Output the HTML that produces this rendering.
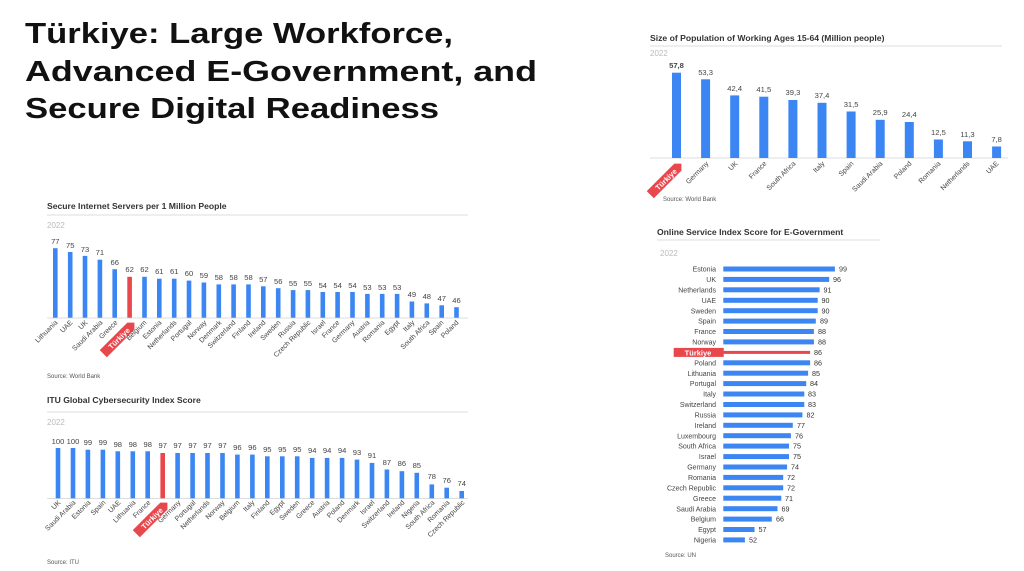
<!DOCTYPE html>
<html><head><meta charset="utf-8"><style>
html,body{margin:0;padding:0;background:#fff;}
svg{display:block;font-family:"Liberation Sans",Arial,sans-serif;}
.t{font-weight:bold;font-size:8.6px;fill:#333}
.y{font-size:8px;fill:#bbb}
.v{font-size:7.6px;fill:#444;text-anchor:middle}
.l{font-size:7px;fill:#444;text-anchor:end}
.s{font-size:6px;fill:#555}
.b{fill:#3b86f2}
.r{fill:#e8474c}
.w{font-size:7.5px;fill:#fff;font-weight:bold;text-anchor:middle}
</style></head><body>
<svg width="1024" height="571" viewBox="0 0 1024 571" xmlns="http://www.w3.org/2000/svg">
<rect width="1024" height="571" fill="#fff"/>
<g font-weight="bold" font-size="29" fill="#111">
<text x="25" y="43" textLength="428" lengthAdjust="spacingAndGlyphs">Türkiye: Large Workforce,</text>
<text x="25" y="81" textLength="512" lengthAdjust="spacingAndGlyphs">Advanced E-Government, and</text>
<text x="25" y="118" textLength="414" lengthAdjust="spacingAndGlyphs">Secure Digital Readiness</text>
</g>

<!-- Chart A -->
<text class="t" x="650" y="41">Size of Population of Working Ages 15-64 (Million people)</text>
<line x1="650" y1="46" x2="1002" y2="46" stroke="#ddd"/>
<text class="y" x="650" y="56">2022</text>
<line x1="650" y1="158" x2="1008" y2="158" stroke="#ddd"/>
<g>
<g transform="translate(676.5,0)"><rect class="b" x="-4.5" y="72.7" width="9" height="85.3"/><text class="v" y="68" font-weight="bold">57,8</text></g>
<g transform="translate(705.6,0)"><rect class="b" x="-4.5" y="79.3" width="9" height="78.7"/><text class="v" y="75">53,3</text><text class="l" transform="translate(708,164) rotate(-45)" x="0" y="0"></text></g>
<g transform="translate(734.7,0)"><rect class="b" x="-4.5" y="95.4" width="9" height="62.6"/><text class="v" y="91">42,4</text></g>
<g transform="translate(763.8,0)"><rect class="b" x="-4.5" y="96.7" width="9" height="61.3"/><text class="v" y="92">41,5</text></g>
<g transform="translate(792.9,0)"><rect class="b" x="-4.5" y="100" width="9" height="58"/><text class="v" y="95">39,3</text></g>
<g transform="translate(822,0)"><rect class="b" x="-4.5" y="102.8" width="9" height="55.2"/><text class="v" y="98">37,4</text></g>
<g transform="translate(851.1,0)"><rect class="b" x="-4.5" y="111.5" width="9" height="46.5"/><text class="v" y="107">31,5</text></g>
<g transform="translate(880.2,0)"><rect class="b" x="-4.5" y="119.8" width="9" height="38.2"/><text class="v" y="115">25,9</text></g>
<g transform="translate(909.3,0)"><rect class="b" x="-4.5" y="122" width="9" height="36"/><text class="v" y="117">24,4</text></g>
<g transform="translate(938.4,0)"><rect class="b" x="-4.5" y="139.5" width="9" height="18.5"/><text class="v" y="135">12,5</text></g>
<g transform="translate(967.5,0)"><rect class="b" x="-4.5" y="141.3" width="9" height="16.7"/><text class="v" y="137">11,3</text></g>
<g transform="translate(996.6,0)"><rect class="b" x="-4.5" y="146.5" width="9" height="11.5"/><text class="v" y="142">7,8</text></g>
</g>
<g class="l">
<g transform="translate(680,165) rotate(-45)"><path d="M-42,-5 H-3 L2,0 L-3,5 H-42 Z" class="r"/><text class="w" x="-20" y="3">Türkiye</text></g>
<text transform="translate(709,164) rotate(-45)">Germany</text>
<text transform="translate(738,164) rotate(-45)">UK</text>
<text transform="translate(767,164) rotate(-45)">France</text>
<text transform="translate(796,164) rotate(-45)">South Africa</text>
<text transform="translate(825,164) rotate(-45)">Italy</text>
<text transform="translate(854,164) rotate(-45)">Spain</text>
<text transform="translate(883,164) rotate(-45)">Saudi Arabia</text>
<text transform="translate(912,164) rotate(-45)">Poland</text>
<text transform="translate(941,164) rotate(-45)">Romania</text>
<text transform="translate(970,164) rotate(-45)">Netherlands</text>
<text transform="translate(999,164) rotate(-45)">UAE</text>
</g>
<text class="s" x="663" y="201">Source: World Bank</text>

<!-- Chart B -->
<text class="t" x="47" y="209">Secure Internet Servers per 1 Million People</text>
<line x1="47" y1="215" x2="468" y2="215" stroke="#ddd"/>
<text class="y" x="47" y="228">2022</text>
<line x1="47" y1="318" x2="468" y2="318" stroke="#ddd"/>
<g>
<g transform="translate(55.3,0)"><rect class="b" x="-2.3" y="248.2" width="4.6" height="69.5"/><text class="v" y="244">77</text></g>
<g transform="translate(70.2,0)"><rect class="b" x="-2.3" y="252" width="4.6" height="65.7"/><text class="v" y="248">75</text></g>
<g transform="translate(85,0)"><rect class="b" x="-2.3" y="255.9" width="4.6" height="61.8"/><text class="v" y="252">73</text></g>
<g transform="translate(99.9,0)"><rect class="b" x="-2.3" y="259.7" width="4.6" height="58"/><text class="v" y="255">71</text></g>
<g transform="translate(114.7,0)"><rect class="b" x="-2.3" y="269.2" width="4.6" height="48.5"/><text class="v" y="265">66</text></g>
<g transform="translate(129.6,0)"><rect class="r" x="-2.3" y="276.8" width="4.6" height="40.9"/><text class="v" y="272">62</text></g>
<g transform="translate(144.5,0)"><rect class="b" x="-2.3" y="276.8" width="4.6" height="40.9"/><text class="v" y="272">62</text></g>
<g transform="translate(159.3,0)"><rect class="b" x="-2.3" y="278.7" width="4.6" height="39"/><text class="v" y="274">61</text></g>
<g transform="translate(174.2,0)"><rect class="b" x="-2.3" y="278.7" width="4.6" height="39"/><text class="v" y="274">61</text></g>
<g transform="translate(189,0)"><rect class="b" x="-2.3" y="280.6" width="4.6" height="37.1"/><text class="v" y="276">60</text></g>
<g transform="translate(203.9,0)"><rect class="b" x="-2.3" y="282.5" width="4.6" height="35.2"/><text class="v" y="278">59</text></g>
<g transform="translate(218.8,0)"><rect class="b" x="-2.3" y="284.4" width="4.6" height="33.3"/><text class="v" y="280">58</text></g>
<g transform="translate(233.6,0)"><rect class="b" x="-2.3" y="284.4" width="4.6" height="33.3"/><text class="v" y="280">58</text></g>
<g transform="translate(248.5,0)"><rect class="b" x="-2.3" y="284.4" width="4.6" height="33.3"/><text class="v" y="280">58</text></g>
<g transform="translate(263.3,0)"><rect class="b" x="-2.3" y="286.3" width="4.6" height="31.4"/><text class="v" y="282">57</text></g>
<g transform="translate(278.2,0)"><rect class="b" x="-2.3" y="288.2" width="4.6" height="29.5"/><text class="v" y="284">56</text></g>
<g transform="translate(293.1,0)"><rect class="b" x="-2.3" y="290.1" width="4.6" height="27.6"/><text class="v" y="286">55</text></g>
<g transform="translate(307.9,0)"><rect class="b" x="-2.3" y="290.1" width="4.6" height="27.6"/><text class="v" y="286">55</text></g>
<g transform="translate(322.8,0)"><rect class="b" x="-2.3" y="292" width="4.6" height="25.7"/><text class="v" y="288">54</text></g>
<g transform="translate(337.6,0)"><rect class="b" x="-2.3" y="292" width="4.6" height="25.7"/><text class="v" y="288">54</text></g>
<g transform="translate(352.5,0)"><rect class="b" x="-2.3" y="292" width="4.6" height="25.7"/><text class="v" y="288">54</text></g>
<g transform="translate(367.4,0)"><rect class="b" x="-2.3" y="293.9" width="4.6" height="23.8"/><text class="v" y="290">53</text></g>
<g transform="translate(382.2,0)"><rect class="b" x="-2.3" y="293.9" width="4.6" height="23.8"/><text class="v" y="290">53</text></g>
<g transform="translate(397.1,0)"><rect class="b" x="-2.3" y="293.9" width="4.6" height="23.8"/><text class="v" y="290">53</text></g>
<g transform="translate(411.9,0)"><rect class="b" x="-2.3" y="301.5" width="4.6" height="16.2"/><text class="v" y="297">49</text></g>
<g transform="translate(426.8,0)"><rect class="b" x="-2.3" y="303.4" width="4.6" height="14.3"/><text class="v" y="299">48</text></g>
<g transform="translate(441.7,0)"><rect class="b" x="-2.3" y="305.3" width="4.6" height="12.4"/><text class="v" y="301">47</text></g>
<g transform="translate(456.5,0)"><rect class="b" x="-2.3" y="307.2" width="4.6" height="10.5"/><text class="v" y="303">46</text></g>
</g>
<g class="l">
<text transform="translate(58,323) rotate(-45)">Lithuania</text>
<text transform="translate(73,323) rotate(-45)">UAE</text>
<text transform="translate(88,323) rotate(-45)">UK</text>
<text transform="translate(103,323) rotate(-45)">Saudi Arabia</text>
<text transform="translate(118,323) rotate(-45)">Greece</text>
<g transform="translate(133,324) rotate(-45)"><path d="M-42,-5 H-3 L2,0 L-3,5 H-42 Z" class="r"/><text class="w" x="-20" y="3">Türkiye</text></g>
<text transform="translate(147,323) rotate(-45)">Belgium</text>
<text transform="translate(162,323) rotate(-45)">Estonia</text>
<text transform="translate(177,323) rotate(-45)">Netherlands</text>
<text transform="translate(192,323) rotate(-45)">Portugal</text>
<text transform="translate(207,323) rotate(-45)">Norway</text>
<text transform="translate(222,323) rotate(-45)">Denmark</text>
<text transform="translate(236,323) rotate(-45)">Switzerland</text>
<text transform="translate(251,323) rotate(-45)">Finland</text>
<text transform="translate(266,323) rotate(-45)">Ireland</text>
<text transform="translate(281,323) rotate(-45)">Sweden</text>
<text transform="translate(296,323) rotate(-45)">Russia</text>
<text transform="translate(311,323) rotate(-45)">Czech Republic</text>
<text transform="translate(326,323) rotate(-45)">Israel</text>
<text transform="translate(340,323) rotate(-45)">France</text>
<text transform="translate(355,323) rotate(-45)">Germany</text>
<text transform="translate(370,323) rotate(-45)">Austria</text>
<text transform="translate(385,323) rotate(-45)">Romania</text>
<text transform="translate(400,323) rotate(-45)">Egypt</text>
<text transform="translate(415,323) rotate(-45)">Italy</text>
<text transform="translate(430,323) rotate(-45)">South Africa</text>
<text transform="translate(444,323) rotate(-45)">Spain</text>
<text transform="translate(459,323) rotate(-45)">Poland</text>
</g>
<text class="s" x="47" y="378">Source: World Bank</text>

<!-- Chart C -->
<text class="t" x="47" y="403">ITU Global Cybersecurity Index Score</text>
<line x1="47" y1="412" x2="468" y2="412" stroke="#ddd"/>
<text class="y" x="47" y="425">2022</text>
<line x1="47" y1="498.5" x2="468" y2="498.5" stroke="#ddd"/>
<g>
<g transform="translate(58,0)"><rect class="b" x="-2.3" y="448" width="4.6" height="50.3"/><text class="v" y="444">100</text></g>
<g transform="translate(73,0)"><rect class="b" x="-2.3" y="448" width="4.6" height="50.3"/><text class="v" y="444">100</text></g>
<g transform="translate(87.9,0)"><rect class="b" x="-2.3" y="449.7" width="4.6" height="48.6"/><text class="v" y="445">99</text></g>
<g transform="translate(102.9,0)"><rect class="b" x="-2.3" y="449.7" width="4.6" height="48.6"/><text class="v" y="445">99</text></g>
<g transform="translate(117.8,0)"><rect class="b" x="-2.3" y="451.3" width="4.6" height="47"/><text class="v" y="447">98</text></g>
<g transform="translate(132.8,0)"><rect class="b" x="-2.3" y="451.3" width="4.6" height="47"/><text class="v" y="447">98</text></g>
<g transform="translate(147.7,0)"><rect class="b" x="-2.3" y="451.3" width="4.6" height="47"/><text class="v" y="447">98</text></g>
<g transform="translate(162.7,0)"><rect class="r" x="-2.3" y="453" width="4.6" height="45.3"/><text class="v" y="448">97</text></g>
<g transform="translate(177.6,0)"><rect class="b" x="-2.3" y="453" width="4.6" height="45.3"/><text class="v" y="448">97</text></g>
<g transform="translate(192.6,0)"><rect class="b" x="-2.3" y="453" width="4.6" height="45.3"/><text class="v" y="448">97</text></g>
<g transform="translate(207.5,0)"><rect class="b" x="-2.3" y="453" width="4.6" height="45.3"/><text class="v" y="448">97</text></g>
<g transform="translate(222.5,0)"><rect class="b" x="-2.3" y="453" width="4.6" height="45.3"/><text class="v" y="448">97</text></g>
<g transform="translate(237.4,0)"><rect class="b" x="-2.3" y="454.6" width="4.6" height="43.7"/><text class="v" y="450">96</text></g>
<g transform="translate(252.4,0)"><rect class="b" x="-2.3" y="454.6" width="4.6" height="43.7"/><text class="v" y="450">96</text></g>
<g transform="translate(267.3,0)"><rect class="b" x="-2.3" y="456.3" width="4.6" height="42"/><text class="v" y="452">95</text></g>
<g transform="translate(282.3,0)"><rect class="b" x="-2.3" y="456.3" width="4.6" height="42"/><text class="v" y="452">95</text></g>
<g transform="translate(297.2,0)"><rect class="b" x="-2.3" y="456.3" width="4.6" height="42"/><text class="v" y="452">95</text></g>
<g transform="translate(312.2,0)"><rect class="b" x="-2.3" y="457.9" width="4.6" height="40.4"/><text class="v" y="453">94</text></g>
<g transform="translate(327.1,0)"><rect class="b" x="-2.3" y="457.9" width="4.6" height="40.4"/><text class="v" y="453">94</text></g>
<g transform="translate(342.1,0)"><rect class="b" x="-2.3" y="457.9" width="4.6" height="40.4"/><text class="v" y="453">94</text></g>
<g transform="translate(357,0)"><rect class="b" x="-2.3" y="459.6" width="4.6" height="38.7"/><text class="v" y="455">93</text></g>
<g transform="translate(372,0)"><rect class="b" x="-2.3" y="462.9" width="4.6" height="35.4"/><text class="v" y="458">91</text></g>
<g transform="translate(386.9,0)"><rect class="b" x="-2.3" y="469.5" width="4.6" height="28.8"/><text class="v" y="465">87</text></g>
<g transform="translate(401.9,0)"><rect class="b" x="-2.3" y="471.2" width="4.6" height="27.1"/><text class="v" y="466">86</text></g>
<g transform="translate(416.8,0)"><rect class="b" x="-2.3" y="472.8" width="4.6" height="25.5"/><text class="v" y="468">85</text></g>
<g transform="translate(431.8,0)"><rect class="b" x="-2.3" y="484.4" width="4.6" height="13.9"/><text class="v" y="479">78</text></g>
<g transform="translate(446.7,0)"><rect class="b" x="-2.3" y="487.7" width="4.6" height="10.6"/><text class="v" y="483">76</text></g>
<g transform="translate(461.7,0)"><rect class="b" x="-2.3" y="491" width="4.6" height="7.3"/><text class="v" y="486">74</text></g>
</g>
<g class="l">
<text transform="translate(61,503) rotate(-45)">UK</text>
<text transform="translate(76,503) rotate(-45)">Saudi Arabia</text>
<text transform="translate(91,503) rotate(-45)">Estonia</text>
<text transform="translate(106,503) rotate(-45)">Spain</text>
<text transform="translate(121,503) rotate(-45)">UAE</text>
<text transform="translate(136,503) rotate(-45)">Lithuania</text>
<text transform="translate(151,503) rotate(-45)">France</text>
<g transform="translate(166,504) rotate(-45)"><path d="M-42,-5 H-3 L2,0 L-3,5 H-42 Z" class="r"/><text class="w" x="-20" y="3">Türkiye</text></g>
<text transform="translate(181,503) rotate(-45)">Germany</text>
<text transform="translate(196,503) rotate(-45)">Portugal</text>
<text transform="translate(210,503) rotate(-45)">Netherlands</text>
<text transform="translate(225,503) rotate(-45)">Norway</text>
<text transform="translate(240,503) rotate(-45)">Belgium</text>
<text transform="translate(255,503) rotate(-45)">Italy</text>
<text transform="translate(270,503) rotate(-45)">Finland</text>
<text transform="translate(285,503) rotate(-45)">Egypt</text>
<text transform="translate(300,503) rotate(-45)">Sweden</text>
<text transform="translate(315,503) rotate(-45)">Greece</text>
<text transform="translate(330,503) rotate(-45)">Austria</text>
<text transform="translate(345,503) rotate(-45)">Poland</text>
<text transform="translate(360,503) rotate(-45)">Denmark</text>
<text transform="translate(375,503) rotate(-45)">Israel</text>
<text transform="translate(390,503) rotate(-45)">Switzerland</text>
<text transform="translate(405,503) rotate(-45)">Ireland</text>
<text transform="translate(420,503) rotate(-45)">Nigeria</text>
<text transform="translate(435,503) rotate(-45)">South Africa</text>
<text transform="translate(450,503) rotate(-45)">Romania</text>
<text transform="translate(465,503) rotate(-45)">Czech Republic</text>
</g>
<text class="s" x="47" y="564">Source: ITU</text>

<!-- Chart D -->
<text class="t" x="657" y="235">Online Service Index Score for E-Government</text>
<line x1="657" y1="240" x2="880" y2="240" stroke="#ddd"/>
<text class="y" x="660" y="256">2022</text>
<g font-size="7.2" fill="#333">
<g transform="translate(0,269)"><text class="l" x="716" y="2.6">Estonia</text><rect class="b" x="723.3" y="-2.5" width="111.6" height="5"/><text x="839" y="2.6" fill="#444">99</text></g>
<g transform="translate(0,279.4)"><text class="l" x="716" y="2.6">UK</text><rect class="b" x="723.3" y="-2.5" width="105.9" height="5"/><text x="833" y="2.6">96</text></g>
<g transform="translate(0,289.8)"><text class="l" x="716" y="2.6">Netherlands</text><rect class="b" x="723.3" y="-2.5" width="96.3" height="5"/><text x="823.5" y="2.6">91</text></g>
<g transform="translate(0,300.3)"><text class="l" x="716" y="2.6">UAE</text><rect class="b" x="723.3" y="-2.5" width="94.4" height="5"/><text x="821.5" y="2.6">90</text></g>
<g transform="translate(0,310.7)"><text class="l" x="716" y="2.6">Sweden</text><rect class="b" x="723.3" y="-2.5" width="94.4" height="5"/><text x="821.5" y="2.6">90</text></g>
<g transform="translate(0,321.1)"><text class="l" x="716" y="2.6">Spain</text><rect class="b" x="723.3" y="-2.5" width="92.5" height="5"/><text x="820" y="2.6">89</text></g>
<g transform="translate(0,331.5)"><text class="l" x="716" y="2.6">France</text><rect class="b" x="723.3" y="-2.5" width="90.6" height="5"/><text x="818" y="2.6">88</text></g>
<g transform="translate(0,341.9)"><text class="l" x="716" y="2.6">Norway</text><rect class="b" x="723.3" y="-2.5" width="90.6" height="5"/><text x="818" y="2.6">88</text></g>
<g transform="translate(0,352.4)"><rect class="r" x="673.7" y="-4.5" width="50" height="9"/><text class="w" x="698" y="3">Türkiye</text><rect class="r" x="723.3" y="-1.5" width="86.8" height="3"/><text x="814" y="2.6">86</text></g>
<g transform="translate(0,362.8)"><text class="l" x="716" y="2.6">Poland</text><rect class="b" x="723.3" y="-2.5" width="86.8" height="5"/><text x="814" y="2.6">86</text></g>
<g transform="translate(0,373.2)"><text class="l" x="716" y="2.6">Lithuania</text><rect class="b" x="723.3" y="-2.5" width="84.8" height="5"/><text x="812" y="2.6">85</text></g>
<g transform="translate(0,383.6)"><text class="l" x="716" y="2.6">Portugal</text><rect class="b" x="723.3" y="-2.5" width="82.9" height="5"/><text x="810" y="2.6">84</text></g>
<g transform="translate(0,394)"><text class="l" x="716" y="2.6">Italy</text><rect class="b" x="723.3" y="-2.5" width="81" height="5"/><text x="808" y="2.6">83</text></g>
<g transform="translate(0,404.5)"><text class="l" x="716" y="2.6">Switzerland</text><rect class="b" x="723.3" y="-2.5" width="81" height="5"/><text x="808" y="2.6">83</text></g>
<g transform="translate(0,414.9)"><text class="l" x="716" y="2.6">Russia</text><rect class="b" x="723.3" y="-2.5" width="79.1" height="5"/><text x="806.5" y="2.6">82</text></g>
<g transform="translate(0,425.3)"><text class="l" x="716" y="2.6">Ireland</text><rect class="b" x="723.3" y="-2.5" width="69.5" height="5"/><text x="797" y="2.6">77</text></g>
<g transform="translate(0,435.7)"><text class="l" x="716" y="2.6">Luxembourg</text><rect class="b" x="723.3" y="-2.5" width="67.6" height="5"/><text x="795" y="2.6">76</text></g>
<g transform="translate(0,446.1)"><text class="l" x="716" y="2.6">South Africa</text><rect class="b" x="723.3" y="-2.5" width="65.7" height="5"/><text x="793" y="2.6">75</text></g>
<g transform="translate(0,456.6)"><text class="l" x="716" y="2.6">Israel</text><rect class="b" x="723.3" y="-2.5" width="65.7" height="5"/><text x="793" y="2.6">75</text></g>
<g transform="translate(0,467)"><text class="l" x="716" y="2.6">Germany</text><rect class="b" x="723.3" y="-2.5" width="63.8" height="5"/><text x="791" y="2.6">74</text></g>
<g transform="translate(0,477.4)"><text class="l" x="716" y="2.6">Romania</text><rect class="b" x="723.3" y="-2.5" width="59.9" height="5"/><text x="787" y="2.6">72</text></g>
<g transform="translate(0,487.8)"><text class="l" x="716" y="2.6">Czech Republic</text><rect class="b" x="723.3" y="-2.5" width="59.9" height="5"/><text x="787" y="2.6">72</text></g>
<g transform="translate(0,498.2)"><text class="l" x="716" y="2.6">Greece</text><rect class="b" x="723.3" y="-2.5" width="58" height="5"/><text x="785" y="2.6">71</text></g>
<g transform="translate(0,508.7)"><text class="l" x="716" y="2.6">Saudi Arabia</text><rect class="b" x="723.3" y="-2.5" width="54.2" height="5"/><text x="781.5" y="2.6">69</text></g>
<g transform="translate(0,519.1)"><text class="l" x="716" y="2.6">Belgium</text><rect class="b" x="723.3" y="-2.5" width="48.5" height="5"/><text x="776" y="2.6">66</text></g>
<g transform="translate(0,529.5)"><text class="l" x="716" y="2.6">Egypt</text><rect class="b" x="723.3" y="-2.5" width="31.2" height="5"/><text x="758.5" y="2.6">57</text></g>
<g transform="translate(0,539.9)"><text class="l" x="716" y="2.6">Nigeria</text><rect class="b" x="723.3" y="-2.5" width="21.6" height="5"/><text x="749" y="2.6">52</text></g>
</g>
<text class="s" x="665" y="557">Source: UN</text>
</svg>
</body></html>
